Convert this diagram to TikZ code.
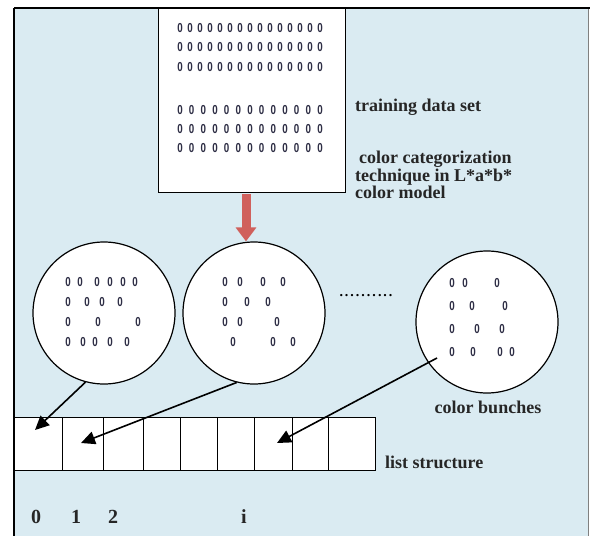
\documentclass[tikz,border=0pt]{standalone}
\usepackage{fontspec}
\setmainfont{Liberation Serif}
\newfontfamily\zfont{Liberation Sans}
\usetikzlibrary{arrows.meta}
\definecolor{bg}{HTML}{DAEBF2}
\definecolor{zc}{HTML}{2E2E45}
\definecolor{redarrow}{HTML}{D0605C}
\begin{document}
\begin{tikzpicture}[x=1pt,y=-1pt,
 zero/.style={inner sep=0pt, text=zc, font=\zfont\bfseries\fontsize{13}{13}\selectfont},
 bunch/.style={circle, draw, fill=white, line width=1.2pt, minimum size=142pt, inner sep=0pt},
 lbl/.style={font=\bfseries\fontsize{18}{17.5}\selectfont, text=black!85, inner sep=0pt},
 numlbl/.style={font=\bfseries\fontsize{20}{20}\selectfont, text=black!85, inner sep=0pt},
 cellbox/.style={draw, fill=white, line width=1pt, inner sep=0pt, minimum height=53pt},
 ptr/.style={line width=1.6pt, -{Triangle[length=14pt,width=13pt]}}
]
\useasboundingbox (0,0) rectangle (590,536);
\fill[bg] (14,8) rectangle (588,536);
\draw[gray, line width=0.8pt] (588,8) -- (588,536);
% training data box
\node[draw, fill=white, line width=1pt, minimum width=187pt, minimum height=184pt, anchor=north west, inner sep=0pt] (train) at (158,8) {};
\draw[line width=2.5pt] (14,8) -- (590,8);
\draw[line width=1.6pt] (14,8) -- (14,536);
\newcommand{\zz}{\scalebox{0.75}[1]{0}}
\foreach \yy in {28,47,67}
  \foreach \k in {0,...,14}
    \node[zero] (t-\yy-\k) at ({180+10*\k},\yy) {\zz};
\foreach \yy in {110,129,148}
  \foreach \k in {0,...,12}
    \node[zero] (b-\yy-\k) at ({180+11.67*\k},\yy) {\zz};
% circles
\node[bunch] (c1) at (104,313) {};
\node[bunch] (c2) at (254,313) {};
\node[bunch] (c3) at (487,322) {};
\foreach \yy/\xs in {282/{68,80,97,110,123,135}, 302/{68,87,102,120}, 322/{68,98,138}, 342/{68,83,95,110,127},
  282/{225,240,263,283}, 302/{225,247,268}, 322/{225,240,277}, 342/{233,273,293},
  283/{452,465,497}, 306/{452,472,505}, 329/{452,477,502}, 352/{452,473,500,512}}
  \foreach \xx in \xs
    \node[zero] (z-\yy-\xx) at (\xx,\yy) {\zz};
% red arrow
\draw[redarrow, line width=9pt, -{Triangle[length=14pt,width=20pt]}] (train.south -| c2.north) ++(-8,1) coordinate (rs) -- (c2.north -| rs);
% dots
\node[inner sep=0pt, font=\bfseries\fontsize{14}{14}\selectfont] (dots) at (366,296) {.\hspace{2pt}.\hspace{2pt}.\hspace{2pt}.\hspace{2pt}.\hspace{2pt}.\hspace{2pt}.\hspace{2pt}.\hspace{2pt}.\hspace{2pt}.};
% list structure
\foreach \i/\a/\b in {0/14/62,1/62/103,2/103/143,3/143/180,4/180/217,5/217/254,6/254/292,7/292/328,8/328/375}
  \node[cellbox, minimum width={(\b-\a)*1pt}, anchor=north west] (cell\i) at (\a,417) {};
\coordinate (tip1) at (35,430);
\coordinate (tip2) at (81,443);
\coordinate (tip3) at (277,443);
\coordinate (s3) at (437,358);
\draw[ptr] (c1.-105) -- (tip1);
\draw[ptr] (c2.-104) -- (tip2);
\draw[ptr] (s3) -- (tip3);
% labels
\node[lbl, anchor=west] (ltrain) at (355,107) {training data set};
\node[lbl, anchor=north west, align=left] (ltech) at (355,151) {\hspace{4pt}color categorization\\technique in L*a*b*\\color model};
\node[lbl] (lbunch) at (488,407) {color bunches};
\node[lbl, anchor=west] (llist) at (385,462) {list structure};
\node[numlbl] (n0) at (36,517) {0};
\node[numlbl] (n1) at (76,517) {1};
\node[numlbl] (n2) at (113,517) {2};
\node[numlbl] (ni) at (244,517) {i};
\end{tikzpicture}
\end{document}
